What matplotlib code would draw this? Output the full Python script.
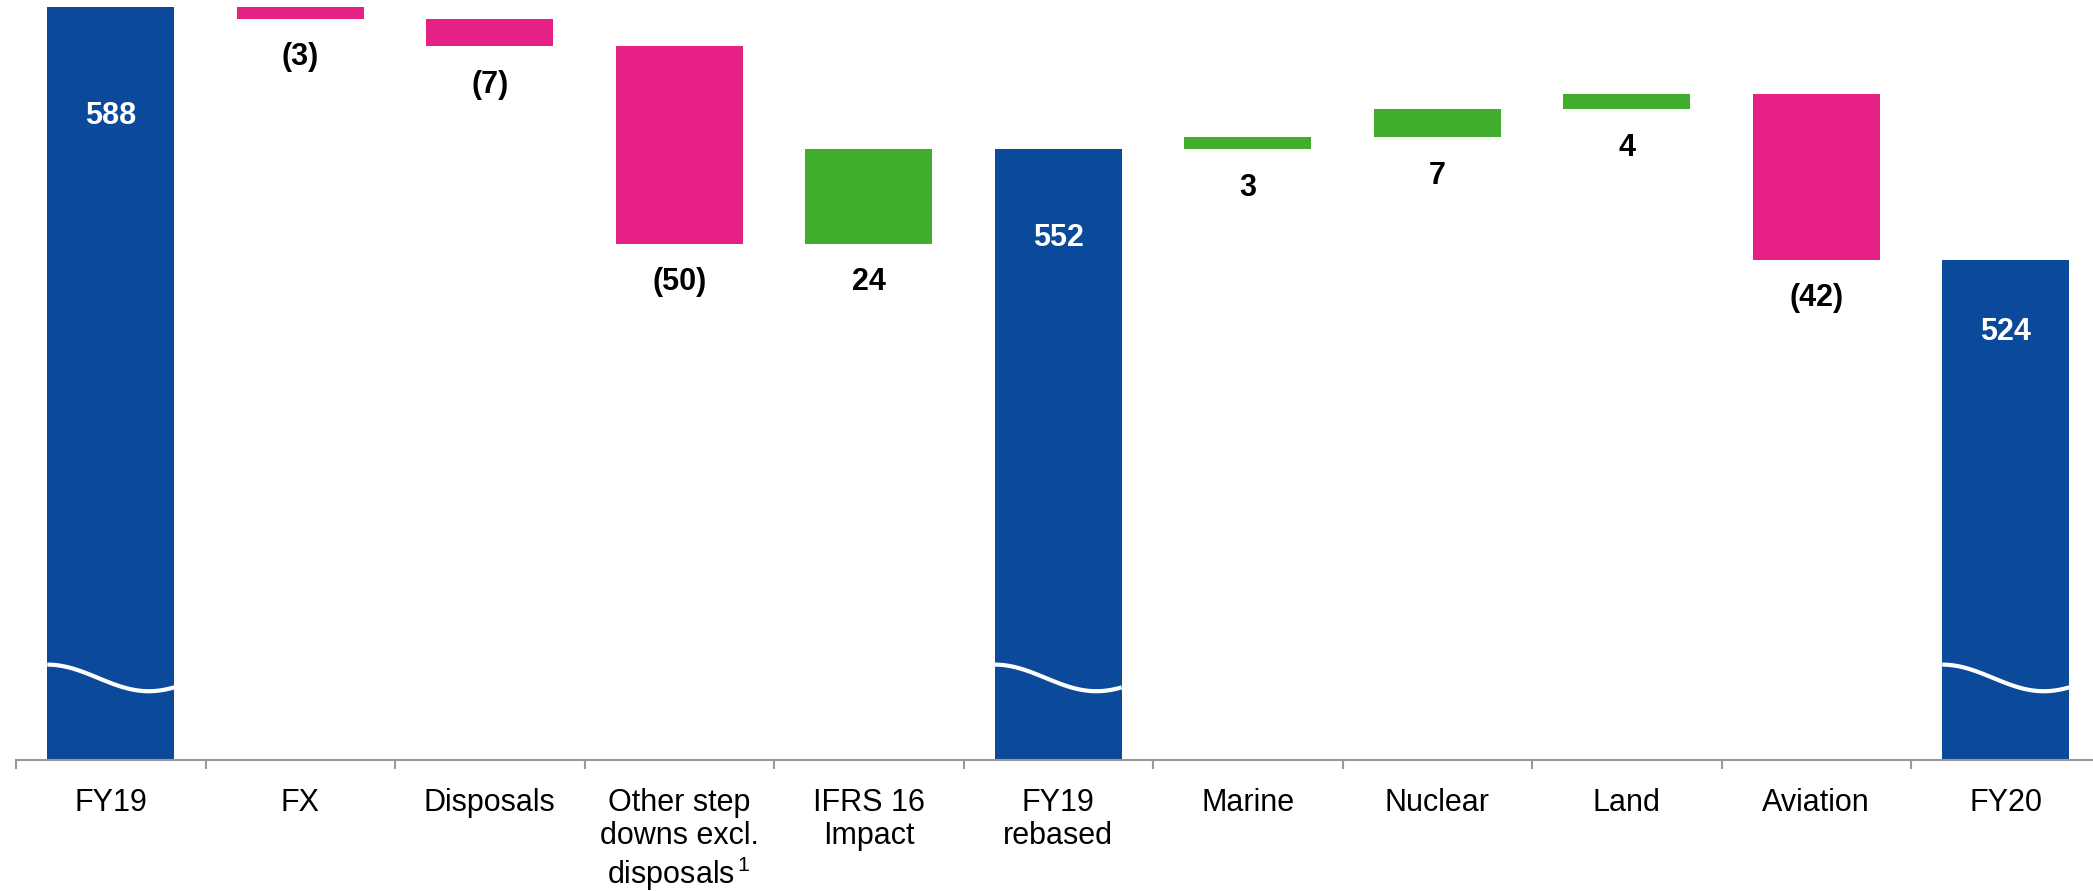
import numpy as np
import matplotlib
matplotlib.use('Agg')
import matplotlib.pyplot as plt
import matplotlib.transforms as mtransforms

plt.rcParams['font.family'] = ['Liberation Sans', 'DejaVu Sans']
plt.rcParams['mathtext.fontset'] = 'custom'
plt.rcParams['mathtext.rm'] = 'Liberation Sans'

# data
categories = ['FY19', 'FX', 'Disposals', 'Other step\ndowns excl.\ndisposals$^{\\,1}$',
              'IFRS 16\nImpact', 'FY19\nrebased', 'Marine', 'Nuclear', 'Land',
              'Aviation', 'FY20']
values = [588, -3, -7, -50, 24, 552, 3, 7, 4, -42, 524]
is_total = [True, False, False, False, False, True, False, False, False, False, True]

blue = '#0B4A9A'
pink = '#E62084'
green = '#41AE2B'

y_floor = 397.3   # axis break: bars start here
y_top = 589.7

fig = plt.figure(figsize=(20.93, 8.91), dpi=100)
ax = fig.add_axes([16/2093, 131/891, 2084.5/2093, 760/891])

x = np.arange(len(categories))
width = 0.67
running = 0
bottoms, heights, colors = [], [], []
for v, tot in zip(values, is_total):
    if tot:
        running = v
        bottoms.append(y_floor)
        heights.append(v - y_floor)
        colors.append(blue)
    else:
        start = running
        running = running + v
        bottoms.append(min(start, running))
        heights.append(abs(v))
        colors.append(green if v > 0 else pink)

ax.bar(x, heights, bottom=bottoms, width=width, color=colors, linewidth=0, zorder=2)

# labels
for i, (v, tot) in enumerate(zip(values, is_total)):
    if tot:
        ypos = v - 0.145 * (v - y_floor)
        ax.text(x[i], ypos, str(v), ha='center', va='center', color='white',
                fontsize=22, fontweight='bold', zorder=4)
    else:
        txt = str(v) if v > 0 else '(%d)' % abs(v)
        ax.annotate(txt, (x[i], bottoms[i]), xytext=(0, -17), textcoords='offset points',
                    ha='center', va='top', fontsize=22, fontweight='bold', color='black')

# wavy break marks on total bars
trans = mtransforms.blended_transform_factory(ax.transData, ax.transAxes)
t = np.linspace(0, 1, 100)
for i, tot in enumerate(is_total):
    if tot:
        wx = x[i] - width/2 + t * width
        wy = 0.108 + 0.0175 * np.cos(np.pi * t / 0.8)
        ax.plot(wx, wy, color='white', lw=3, transform=trans, zorder=3,
                solid_capstyle='butt')

ax.set_xlim(-0.5, len(categories) - 0.5)
ax.set_ylim(y_floor, y_top)
ax.set_yticks([])
for s in ['left', 'top', 'right']:
    ax.spines[s].set_visible(False)
ax.spines['bottom'].set_color('#999999')
ax.spines['bottom'].set_linewidth(1.5)

ax.set_xticks(x)
ax.set_xticklabels(categories, fontsize=22, linespacing=1.13)
ax.tick_params(axis='x', which='major', length=0, pad=20)
ax.set_xticks(np.arange(-0.5, len(categories), 1.0), minor=True)
ax.tick_params(axis='x', which='minor', length=6.7, width=1.5, color='#999999')

fig.savefig('out.png', dpi=100)
